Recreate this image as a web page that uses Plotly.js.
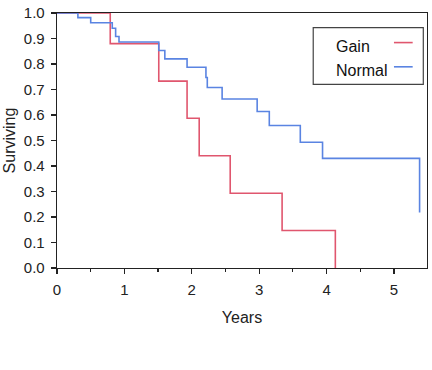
<!DOCTYPE html>
<html>
<head>
<meta charset="utf-8">
<script src="https://cdn.plot.ly/plotly-3.0.1.min.js"></script>
<style>
  html, body { margin: 0; padding: 0; background: #fff; }
  #chart { width: 432px; height: 370px; }
</style>
</head>
<body>
<div id="chart"></div>
<script>
// Kaplan-Meier survival estimates (step functions)
const gainYears = [0, 0.79, 1.51, 1.93, 2.11, 2.57, 3.34, 4.13];
const gainSurv  = [1.0, 0.88, 0.733, 0.587, 0.44, 0.293, 0.147, 0.0];

const normalYears = [0, 0.31, 0.50, 0.82, 0.87, 0.92, 1.51, 1.60, 1.93, 2.21, 2.23, 2.45, 2.97, 3.15, 3.61, 3.94, 5.38];
const normalSurv  = [1.0, 0.982, 0.962, 0.94, 0.908, 0.886, 0.853, 0.82, 0.787, 0.747, 0.708, 0.663, 0.614, 0.559, 0.493, 0.43, 0.218];

const seriesNames = ['Gain', 'Normal'];
const xTicks = [0, 1, 2, 3, 4, 5];
const yTicks = [0, 0.1, 0.2, 0.3, 0.4, 0.5, 0.6, 0.7, 0.8, 0.9, 1.0];

const RED = '#e0566e';
const BLUE = '#5a84e2';
const FONT = 'Liberation Sans, Arial, sans-serif';

const traces = [
  { x: gainYears, y: gainSurv, name: seriesNames[0], mode: 'lines',
    line: { shape: 'hv', color: RED, width: 1.6 }, hoverinfo: 'x+y' },
  { x: normalYears, y: normalSurv, name: seriesNames[1], mode: 'lines',
    line: { shape: 'hv', color: BLUE, width: 1.6 }, hoverinfo: 'x+y' }
];

// Legend box with line samples placed to the right of the labels
const legX0 = 0.6925, legX1 = 0.990, legY0 = 0.72, legY1 = 0.943;
const sampleX0 = 0.9107, sampleX1 = 0.9613;
const rowY = [0.884, 0.789];
const textY = [0.870, 0.775];

const shapes = [
  { type: 'rect', xref: 'paper', yref: 'paper', x0: legX0, x1: legX1, y0: legY0, y1: legY1,
    line: { color: '#444', width: 1.2 }, fillcolor: 'rgba(0,0,0,0)' },
  { type: 'line', xref: 'paper', yref: 'paper', x0: sampleX0, x1: sampleX1, y0: rowY[0], y1: rowY[0],
    line: { color: RED, width: 1.6 } },
  { type: 'line', xref: 'paper', yref: 'paper', x0: sampleX0, x1: sampleX1, y0: rowY[1], y1: rowY[1],
    line: { color: BLUE, width: 1.6 } }
];

const annotations = seriesNames.map((n, i) => ({
  xref: 'paper', yref: 'paper', x: 0.7497, y: textY[i], xanchor: 'left', yanchor: 'middle',
  text: n, showarrow: false, font: { family: FONT, size: 16, color: '#111' }
}));

const layout = {
  width: 432, height: 370,
  margin: { l: 57, r: 5, t: 13, b: 102 },
  paper_bgcolor: '#fff', plot_bgcolor: '#fff',
  showlegend: false,
  font: { family: FONT, size: 15, color: '#222' },
  xaxis: {
    range: [0, 5.49], tickvals: xTicks, ticks: 'outside', ticklen: 5, tickwidth: 1.2,
    tickcolor: '#222', showline: true, linecolor: '#222', linewidth: 1.3, mirror: true,
    showgrid: false, zeroline: false, ticklabelstandoff: 3,
    minor: { dtick: 0.5, ticks: 'outside', ticklen: 3, tickwidth: 1.2, tickcolor: '#222' },
    title: { text: 'Years', font: { family: FONT, size: 16, color: '#222' }, standoff: 14 }
  },
  yaxis: {
    range: [0, 1.0], tickvals: yTicks, tickformat: '.1f', ticks: 'outside', ticklen: 5, tickwidth: 1.2,
    tickcolor: '#222', showline: true, linecolor: '#222', linewidth: 1.3, mirror: true,
    showgrid: false, zeroline: false, ticklabelstandoff: 3,
    title: { text: 'Surviving', font: { family: FONT, size: 16, color: '#222' }, standoff: 4 }
  },
  shapes: shapes,
  annotations: annotations
};

Plotly.newPlot('chart', traces, layout, { displayModeBar: false, staticPlot: true });
</script>
</body>
</html>
